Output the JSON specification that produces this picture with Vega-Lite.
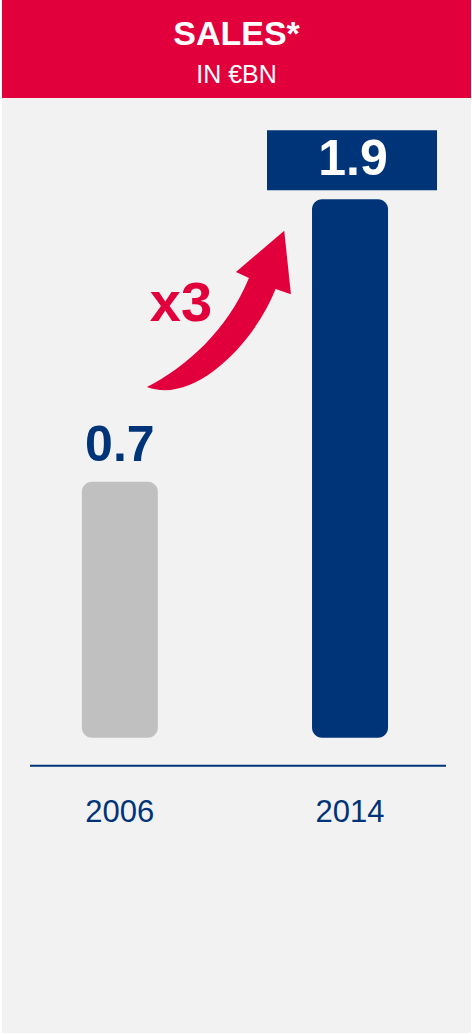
{
  "$schema": "https://vega.github.io/schema/vega-lite/v6.json",
  "background": "white",
  "padding": {"left": 2, "right": 1, "top": 0, "bottom": 1},
  "autosize": {"type": "pad"},
  "spacing": 0,
  "bounds": "flush",
  "config": {"view": {"stroke": null}},
  "resolve": {"scale": {"x": "independent", "y": "independent", "color": "independent"}},
  "vconcat": [
    {
      "width": 469,
      "height": 98,
      "view": {"fill": "#e2003c", "stroke": null},
      "data": {"values": [{"line": "SALES*"}]},
      "layer": [
        {
          "mark": {"type": "text", "font": "Liberation Sans", "fontWeight": "bold", "fontSize": 34, "color": "white", "align": "center", "baseline": "alphabetic"},
          "encoding": {
            "x": {"datum": 0.5, "type": "quantitative", "scale": {"domain": [0, 1], "nice": false, "zero": false}, "axis": null},
            "y": {"datum": 0.462, "type": "quantitative", "scale": {"domain": [0, 1], "nice": false, "zero": false, "reverse": true}, "axis": null},
            "text": {"value": "SALES*"}
          }
        },
        {
          "mark": {"type": "text", "font": "Liberation Sans", "fontSize": 25, "color": "white", "align": "center", "baseline": "alphabetic"},
          "encoding": {
            "x": {"datum": 0.5, "type": "quantitative"},
            "y": {"datum": 0.844, "type": "quantitative"},
            "text": {"value": "IN €BN"}
          }
        }
      ]
    },
    {
      "width": 469,
      "height": 935,
      "view": {"fill": "#f2f2f2", "stroke": null},
      "data": {"values": [
        {"year": 2006, "value": 0.7},
        {"year": 2014, "value": 1.9}
      ]},
      "layer": [
        {
          "mark": {"type": "bar", "width": 76, "cornerRadius": 10},
          "encoding": {
            "x": {"field": "year", "type": "quantitative", "scale": {"domain": [2001.904, 2018.205], "nice": false, "zero": false, "padding": 0}, "axis": null},
            "y": {"field": "value", "type": "quantitative", "scale": {"domain": [-1.6427, 2.3305], "nice": false, "zero": false, "padding": 0}, "axis": null},
            "y2": {"datum": -0.388},
            "color": {"field": "year", "type": "nominal", "scale": {"domain": [2006, 2014], "range": ["#c0c0c0", "#003478"]}, "legend": null}
          }
        },
        {
          "data": {"values": [{}]},
          "mark": {"type": "rule", "color": "#003478", "strokeWidth": 2},
          "encoding": {
            "x": {"datum": 2002.877, "type": "quantitative"},
            "x2": {"datum": 2017.336},
            "y": {"datum": -0.507, "type": "quantitative"}
          }
        },
        {
          "mark": {"type": "text", "font": "Liberation Sans", "fontSize": 31, "color": "#003478", "align": "center", "baseline": "alphabetic"},
          "encoding": {
            "x": {"field": "year", "type": "quantitative"},
            "y": {"datum": -0.745, "type": "quantitative"},
            "text": {"field": "year", "type": "nominal"}
          }
        },
        {
          "transform": [{"filter": "datum.year == 2006"}],
          "mark": {"type": "text", "font": "Liberation Sans", "fontWeight": "bold", "fontSize": 50, "color": "#003478", "align": "center", "baseline": "alphabetic", "dy": -21},
          "encoding": {
            "x": {"field": "year", "type": "quantitative"},
            "y": {"field": "value", "type": "quantitative"},
            "text": {"field": "value", "type": "nominal"}
          }
        },
        {
          "transform": [{"filter": "datum.year == 2014"}],
          "mark": {"type": "bar", "width": 170, "xOffset": 2, "yOffset": -69, "y2Offset": -9, "color": "#003478"},
          "encoding": {
            "x": {"field": "year", "type": "quantitative"},
            "y": {"field": "value", "type": "quantitative"},
            "y2": {"field": "value"}
          }
        },
        {
          "transform": [{"filter": "datum.year == 2014"}],
          "mark": {"type": "text", "font": "Liberation Sans", "fontWeight": "bold", "fontSize": 50, "color": "white", "align": "center", "baseline": "alphabetic", "dy": -24, "dx": 3},
          "encoding": {
            "x": {"field": "year", "type": "quantitative"},
            "y": {"field": "value", "type": "quantitative"},
            "text": {"field": "value", "type": "nominal"}
          }
        },
        {
          "data": {"values": [{}]},
          "mark": {"type": "text", "font": "Liberation Sans", "fontWeight": "bold", "fontSize": 56, "color": "#e2003c", "align": "center", "baseline": "alphabetic"},
          "encoding": {
            "x": {"datum": 2008.126, "type": "quantitative"},
            "y": {"datum": 1.383, "type": "quantitative"},
            "text": {"value": "x3"}
          }
        },
        {
          "data": {"values": [{}]},
          "mark": {"type": "point", "filled": true, "opacity": 1, "color": "#e2003c", "size": 4, "shape": "M-88,46.5C-50,27.5,-7,-10.5,14,-62.5L1,-68.5L49.3,-109.8L56,-46.2L40.7,-51.5C20,1.5,-40,64.5,-88,46.5Z"},
          "encoding": {
            "x": {"datum": 2010, "type": "quantitative"},
            "y": {"datum": 1.3, "type": "quantitative"}
          }
        }
      ]
    }
  ]
}
